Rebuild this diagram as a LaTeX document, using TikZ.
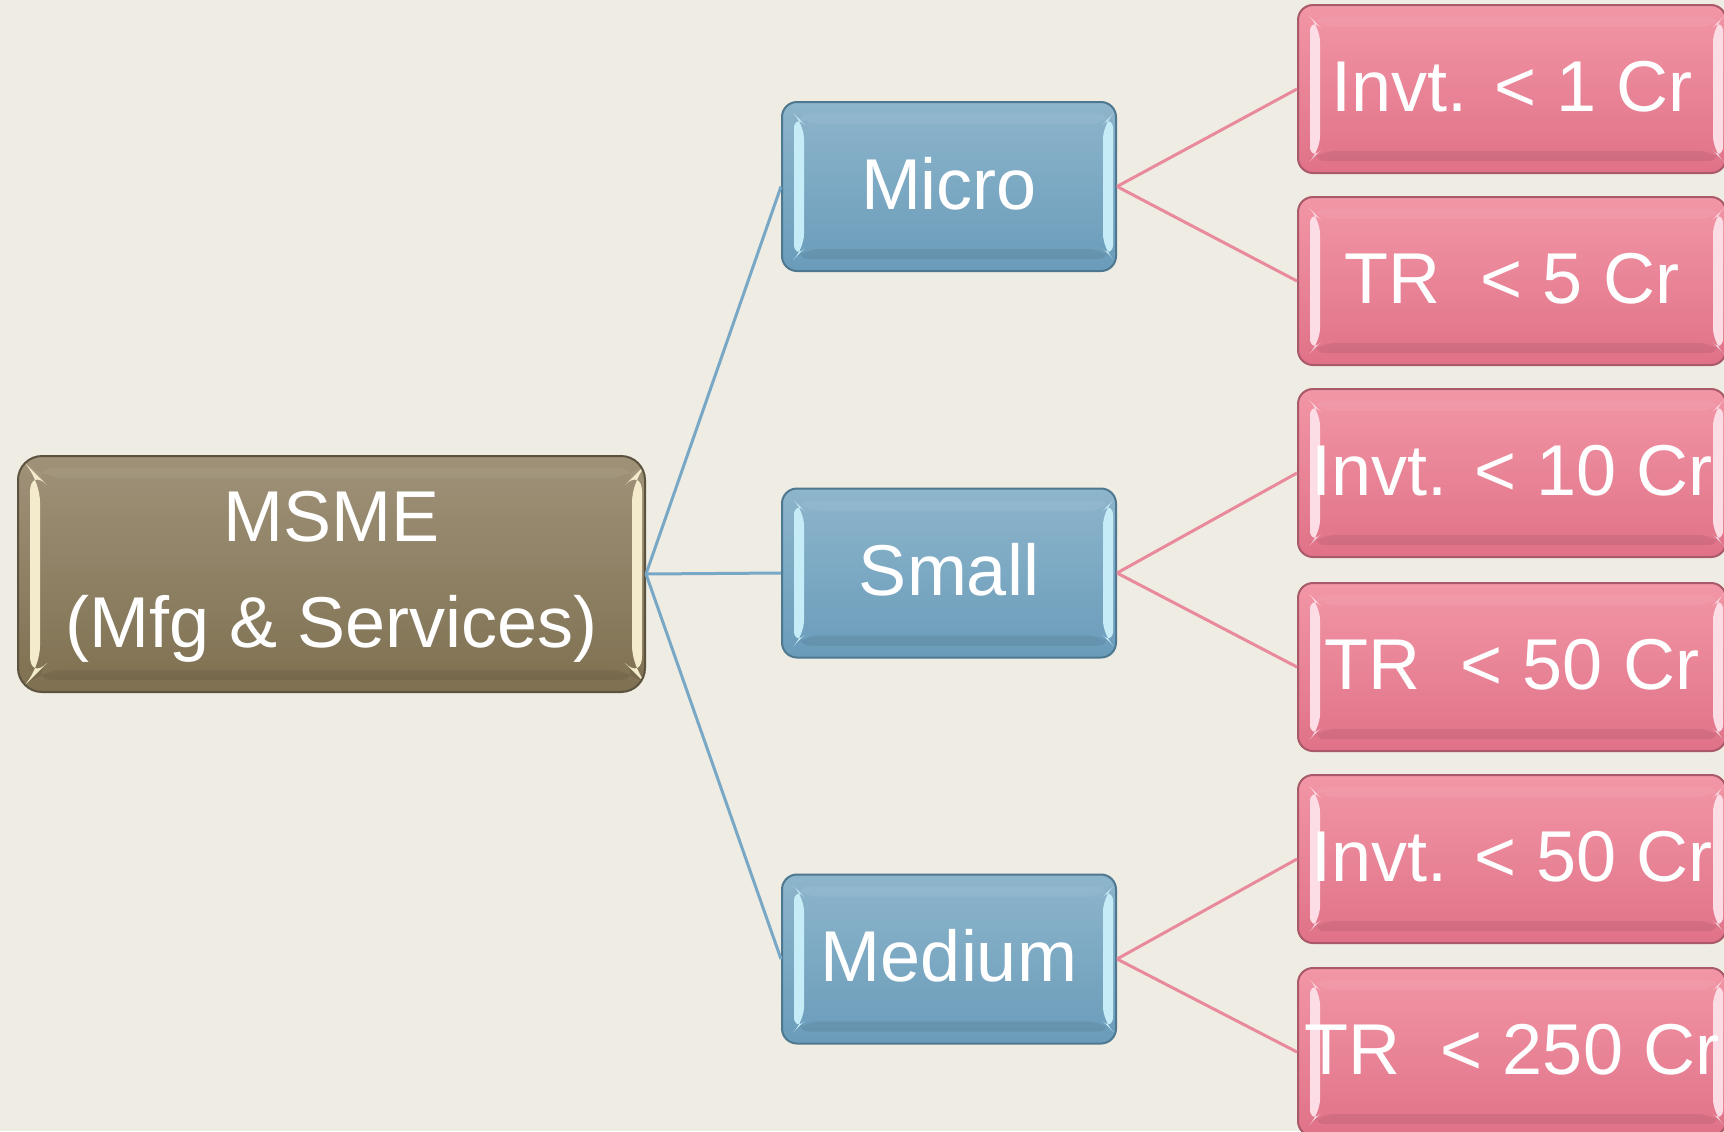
\documentclass[tikz,border=0pt]{standalone}
\usepackage{fontspec}
\setmainfont{Liberation Sans}
\usetikzlibrary{calc}
\definecolor{bg}{HTML}{EFECE3}
\definecolor{bluetop}{HTML}{8DB5CB}
\definecolor{bluebot}{HTML}{6A9CBA}
\definecolor{blueborder}{HTML}{4E7890}
\definecolor{bluelight}{HTML}{C6ECF8}
\definecolor{pinktop}{HTML}{F296A6}
\definecolor{pinkbot}{HTML}{E07288}
\definecolor{pinkborder}{HTML}{A8596A}
\definecolor{pinklight}{HTML}{FCDCE5}
\definecolor{msmetop}{HTML}{A09279}
\definecolor{msmebot}{HTML}{7E7050}
\definecolor{msmeborder}{HTML}{5C5240}
\definecolor{msmelight}{HTML}{F3EBCB}
\definecolor{blueline}{HTML}{78A8C6}
\definecolor{pinkline}{HTML}{E98A9C}
\tikzset{
  bevel/.style={path picture={
    \fill[#1] ($(path picture bounding box.north west)+(12,12)$) -- ($(path picture bounding box.north west)+(22,22)$)
       -- ($(path picture bounding box.south west)+(22,-22)$) -- ($(path picture bounding box.south west)+(12,-12)$) -- cycle;
    \fill[#1] ($(path picture bounding box.north east)+(-3,12)$) -- ($(path picture bounding box.north east)+(-13,22)$)
       -- ($(path picture bounding box.south east)+(-13,-22)$) -- ($(path picture bounding box.south east)+(-3,-12)$) -- cycle;
    \fill[black,opacity=0.07] ($(path picture bounding box.south west)+(12,-12)$) -- ($(path picture bounding box.south west)+(22,-22)$)
       -- ($(path picture bounding box.south east)+(-13,-22)$) -- ($(path picture bounding box.south east)+(-3,-12)$) -- cycle;
    \fill[white,opacity=0.06] ($(path picture bounding box.north west)+(12,12)$) -- ($(path picture bounding box.north west)+(22,22)$)
       -- ($(path picture bounding box.north east)+(-13,22)$) -- ($(path picture bounding box.north east)+(-3,12)$) -- cycle;
  }},
  box/.style={draw, line width=1pt, rounded corners=7.5pt, inner sep=0pt, text=white,
    font=\fontsize{36}{43}\selectfont, text height=25.8pt, text depth=3pt},
  bluebox/.style={box, minimum width=167pt, minimum height=84.5pt, draw=blueborder,
    top color=bluetop, bottom color=bluebot, bevel=bluelight},
  pinkbox/.style={box, minimum width=214pt, minimum height=84pt, draw=pinkborder,
    top color=pinktop, bottom color=pinkbot, bevel=pinklight},
  msmebox/.style={draw=msmeborder, line width=1pt, rounded corners=12pt, inner sep=0pt,
    minimum width=313.5pt, minimum height=118pt, top color=msmetop, bottom color=msmebot, bevel=msmelight},
  msmetext/.style={inner sep=0pt, text=white, font=\fontsize{36}{43}\selectfont, text height=25.8pt, text depth=0pt},
  blink/.style={draw=blueline, line width=1.5pt},
  plink/.style={draw=pinkline, line width=1.5pt}
}
\begin{document}
\begin{tikzpicture}[x=0.5pt,y=-0.5pt]
\useasboundingbox (0,0) rectangle (1724,1131);
\clip (0,0) rectangle (1724,1131);
\fill[bg] (0,0) rectangle (1724,1131);

\node[msmebox] (msme) at (331.5,574) {};
\node[msmetext] (msmeA) at (331.5,516) {MSME};
\node[msmetext] (msmeB) at (331.5,622) {(Mfg \& Services)};

\node[bluebox] (micro) at (949,186.5) {Micro};
\node[bluebox] (small) at (949,573) {Small};
\node[bluebox] (medium) at (949,959) {Medium};

\node[pinkbox] (p1) at (1512,89) {Invt. < 1 Cr};
\node[pinkbox] (p2) at (1512,281) {TR\ \ < 5 Cr};
\node[pinkbox] (p3) at (1512,473) {Invt. < 10 Cr};
\node[pinkbox] (p4) at (1512,667) {TR\ \ < 50 Cr};
\node[pinkbox] (p5) at (1512,859) {Invt. < 50 Cr};
\node[pinkbox] (p6) at (1512,1052) {TR\ \ < 250 Cr};

\draw[blink] (msme.east) -- (micro.west);
\draw[blink] (msme.east) -- (small.west);
\draw[blink] (msme.east) -- (medium.west);

\draw[plink] (micro.east) -- (p1.west);
\draw[plink] (micro.east) -- (p2.west);
\draw[plink] (small.east) -- (p3.west);
\draw[plink] (small.east) -- (p4.west);
\draw[plink] (medium.east) -- (p5.west);
\draw[plink] (medium.east) -- (p6.west);
\end{tikzpicture}
\end{document}
